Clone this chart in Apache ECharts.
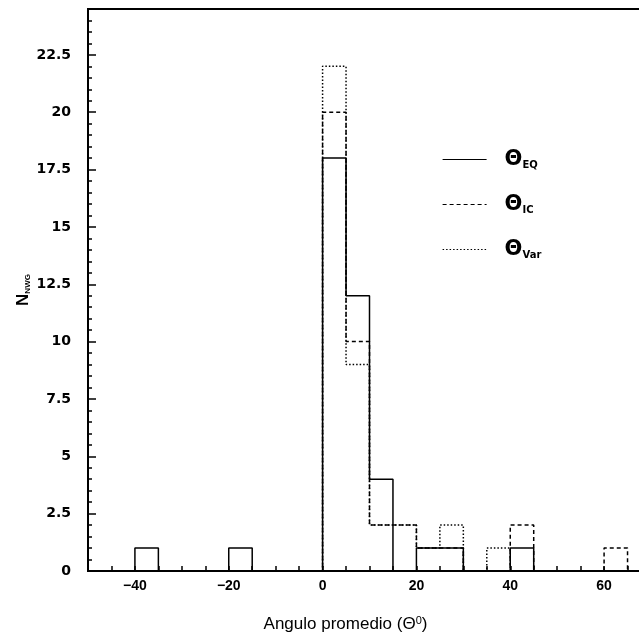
<!DOCTYPE html>
<html>
<head>
<meta charset="utf-8">
<script src="https://cdn.jsdelivr.net/npm/echarts@6/dist/echarts.min.js"></script>
<style>
  html, body { margin: 0; padding: 0; background: #fff; overflow: hidden; }
  #main { width: 660px; height: 641px; }
</style>
</head>
<body>
<div id="main"></div>
<script>
// bin edges (width 5) and counts per bin
var binEdges = [-50, -45, -40, -35, -30, -25, -20, -15, -10, -5, 0, 5, 10, 15, 20, 25, 30, 35, 40, 45, 50, 55, 60, 65, 70];
var countsEQ  = [0, 0, 1, 0, 0, 0, 1, 0, 0, 0, 18, 12, 4, 0, 1, 1, 0, 0, 1, 0, 0, 0, 0, 0];
var countsIC  = [0, 0, 0, 0, 0, 0, 0, 0, 0, 0, 20, 10, 2, 2, 1, 1, 0, 0, 2, 0, 0, 0, 1, 0];
var countsVar = [0, 0, 0, 0, 0, 0, 0, 0, 0, 0, 22, 9, 2, 2, 1, 2, 0, 1, 0, 0, 0, 0, 0, 0];
var xLabels = [-40, -20, 0, 20, 40, 60];
var yTicks = ['0', '2.5', '5', '7.5', '10', '12.5', '15', '17.5', '20', '22.5'];

// histogram outline for a step line
function steps(counts) {
    var pts = [[binEdges[0], 0]];
    for (var i = 0; i < counts.length; i++) {
        pts.push([binEdges[i], counts[i]]);
    }
    pts.push([binEdges[binEdges.length - 1], 0]);
    return pts;
}

function histSeries(name, counts, type) {
    return {
        name: name,
        type: 'line',
        step: 'end',
        symbol: 'none',
        data: steps(counts),
        lineStyle: { color: '#000', width: 1.5, type: type },
        itemStyle: { color: '#000' }
    };
}

var legendNames = { EQ: 'EQ', IC: 'IC', Var: 'Var' };

echarts.init(document.getElementById('main')).setOption({
    animation: false,
    grid: {
        left: 88, top: 9, right: 9, bottom: 70,
        show: true, borderColor: '#000', borderWidth: 2
    },
    legend: {
        orient: 'vertical',
        left: 442, top: 149, padding: 0,
        itemWidth: 44, itemHeight: 18, itemGap: 24,
        data: ['EQ', 'IC', 'Var'],
        itemStyle: { opacity: 0 },
        lineStyle: { width: 1.2 },
        formatter: function (n) { return '{a|\u0398}{s|' + legendNames[n] + '}'; },
        textStyle: {
            padding: [0, 0, 0, 13],
            rich: {
                a: { fontSize: 21, fontWeight: 'bold', color: '#000', fontFamily: 'DejaVu Sans' },
                s: { fontSize: 10, fontWeight: 'bold', color: '#000', verticalAlign: 'bottom', fontFamily: 'DejaVu Sans', padding: [10, 0, 0, 0] }
            }
        }
    },
    xAxis: {
        type: 'value',
        min: -50, max: 70, interval: 5,
        name: '{t|Angulo promedio (\u0398}{p|0}{t|)}',
        nameLocation: 'middle',
        nameGap: 44,
        nameMoveOverlap: false,
        nameTextStyle: {
            padding: [0, 48, 0, 0],
            rich: {
                t: { fontSize: 17, color: '#000', fontFamily: 'Liberation Sans' },
                p: { fontSize: 11, color: '#000', fontFamily: 'Liberation Sans', verticalAlign: 'top', padding: [0, 0, 8, 0] }
            }
        },
        axisLine: { onZero: false, lineStyle: { color: '#000', width: 2 } },
        axisTick: { inside: true, length: 5, lineStyle: { color: '#000', width: 1.5 } },
        axisLabel: {
            interval: 0, margin: 8,
            color: '#000', fontSize: 14, fontWeight: 'bold', fontFamily: 'Liberation Sans',
            formatter: function (v) {
                if (xLabels.indexOf(v) < 0) return '';
                return v < 0 ? '\u2212' + (-v) : String(v);
            }
        },
        splitLine: { show: false }
    },
    yAxis: {
        type: 'value',
        min: 0, max: 24.5, interval: 2.5,
        name: '{n|N}{s|NWG}',
        nameLocation: 'middle',
        nameGap: 56,
        nameRotate: 90,
        nameMoveOverlap: false,
        nameTextStyle: {
            rich: {
                n: { fontSize: 17, fontWeight: 'bold', color: '#000', fontFamily: 'Liberation Sans' },
                s: { fontSize: 8, fontWeight: 'bold', color: '#000', fontFamily: 'Liberation Sans', verticalAlign: 'bottom', padding: [8, 0, 0, 0] }
            }
        },
        axisLine: { onZero: false, lineStyle: { color: '#000', width: 2 } },
        axisTick: { inside: true, length: 8, lineStyle: { color: '#000', width: 1.5 } },
        minorTick: { show: true, splitNumber: 5, length: 4, lineStyle: { color: '#000', width: 1.5 } },
        axisLabel: {
            margin: 17, showMaxLabel: false,
            color: '#000', fontSize: 14, fontWeight: 'bold', fontFamily: 'DejaVu Sans',
            formatter: function (v) {
                var s = String(v);
                return yTicks.indexOf(s) < 0 ? '' : s;
            }
        },
        splitLine: { show: false }
    },
    series: [
        histSeries('Var', countsVar, [1.5, 2]),
        histSeries('IC', countsIC, [4, 3]),
        histSeries('EQ', countsEQ, 'solid')
    ]
});
</script>
</body>
</html>
